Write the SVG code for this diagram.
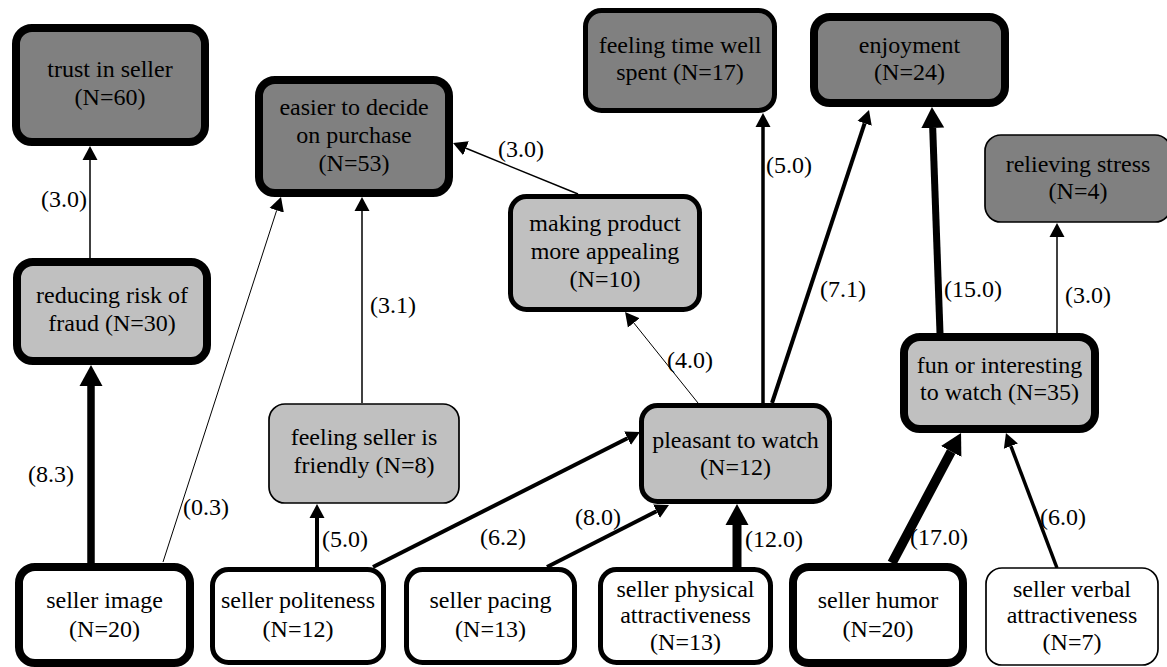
<svg xmlns="http://www.w3.org/2000/svg" width="1167" height="667" viewBox="0 0 1167 667" font-family="'Liberation Serif', 'Times New Roman', Times, 'DejaVu Serif', serif">
  <style>
    .node rect { stroke: #000; }
    .dark { fill: #808080; }
    .light { fill: #c0c0c0; }
    .white { fill: #ffffff; }
    .w-thick { stroke-width: 8; }
    .w-mid { stroke-width: 5; }
    .w-thin { stroke-width: 1.7; }
    text { font-family: 'Liberation Serif', 'Times New Roman', Times, 'DejaVu Serif', serif; font-size: 24px; fill: #000; }
    .node text { text-anchor: middle; }
    .edge { fill: none; stroke: #000; stroke-linecap: butt; }
    .a-small { marker-end: url(#arrow); }
    .a-large { marker-end: url(#arrow-big); }
  </style>
  <defs>
    <marker id="arrow" viewBox="0 -8 14 16" markerWidth="14" markerHeight="16" refX="0" refY="0" orient="auto" markerUnits="userSpaceOnUse">
      <path d="M0,-7.5 L14,0 L0,7.5 z" fill="#000"/>
    </marker>
    <marker id="arrow-big" viewBox="0 -12 21 24" markerWidth="21" markerHeight="24" refX="0" refY="0" orient="auto" markerUnits="userSpaceOnUse">
      <path d="M0,-11.5 L21,0 L0,11.5 z" fill="#000"/>
    </marker>
  </defs>

  <rect width="1167" height="667" fill="#ffffff"/>

  <!-- connectors -->
  <g id="edges">
    <path class="edge a-small" d="M90,259 L90,160" stroke-width="1.5"/>
    <path class="edge a-large" d="M91,563 L91,386" stroke-width="7.5"/>
    <path class="edge a-small" d="M163,562 L276.7,210.3" stroke-width="1"/>
    <path class="edge a-small" d="M362,403 L362,211" stroke-width="1.5"/>
    <path class="edge a-small" d="M317,567 L317,518" stroke-width="4"/>
    <path class="edge a-small" d="M373,567 L627.5,438.3" stroke-width="4"/>
    <path class="edge a-small" d="M547,567 L656.5,511.3" stroke-width="4"/>
    <path class="edge a-large" d="M737,567 L737,525" stroke-width="9"/>
    <path class="edge a-small" d="M698,403 L633.8,322.9" stroke-width="1"/>
    <path class="edge a-small" d="M578,194 L466,148.3" stroke-width="1.5"/>
    <path class="edge a-small" d="M763,403 L763,127" stroke-width="3.5"/>
    <path class="edge a-small" d="M772,403 L864.6,123.3" stroke-width="4"/>
    <path class="edge a-large" d="M940,333 L932.7,128" stroke-width="7"/>
    <path class="edge a-small" d="M1057,333 L1057,237" stroke-width="1.5"/>
    <path class="edge a-large" d="M892,563 L951.2,451.5" stroke-width="9.5"/>
    <path class="edge a-small" d="M1057,568 L1010.9,446.1" stroke-width="3.5"/>

    <g id="edge-labels">
      <text x="41" y="207">(3.0)</text>
      <text x="28" y="482">(8.3)</text>
      <text x="183" y="515">(0.3)</text>
      <text x="370" y="313">(3.1)</text>
      <text x="322" y="547">(5.0)</text>
      <text x="480" y="545">(6.2)</text>
      <text x="575" y="525">(8.0)</text>
      <text x="745" y="547">(12.0)</text>
      <text x="667" y="368">(4.0)</text>
      <text x="498" y="157">(3.0)</text>
      <text x="766" y="173">(5.0)</text>
      <text x="820" y="297">(7.1)</text>
      <text x="944" y="297">(15.0)</text>
      <text x="1065" y="303">(3.0)</text>
      <text x="910" y="545">(17.0)</text>
      <text x="1040" y="525">(6.0)</text>
    </g>
  </g>

  <!-- outcome nodes -->
  <g id="trust" class="node">
    <rect class="dark w-thick" x="16" y="28" width="189" height="114" rx="16"/>
    <text x="110" y="77">trust in seller</text>
    <text x="110" y="105">(N=60)</text>
  </g>
  <g id="easier" class="node">
    <rect class="dark w-thick" x="259" y="80" width="190" height="113" rx="16"/>
    <text x="354" y="115">easier to decide</text>
    <text x="354" y="143">on purchase</text>
    <text x="354" y="171">(N=53)</text>
  </g>
  <g id="time-well-spent" class="node">
    <rect class="dark w-mid" x="585.5" y="10.5" width="189" height="100" rx="16"/>
    <text x="680" y="53">feeling time well</text>
    <text x="680" y="80">spent (N=17)</text>
  </g>
  <g id="enjoyment" class="node">
    <rect class="dark w-thick" x="814" y="17" width="191" height="86" rx="16"/>
    <text x="909.5" y="53">enjoyment</text>
    <text x="909.5" y="80">(N=24)</text>
  </g>
  <g id="relieving-stress" class="node">
    <rect class="dark w-thin" x="985" y="135" width="186" height="87" rx="16"/>
    <text x="1078" y="172">relieving stress</text>
    <text x="1078" y="199">(N=4)</text>
  </g>

  <!-- intermediate nodes -->
  <g id="reducing-risk" class="node">
    <rect class="light w-thick" x="17" y="262" width="190" height="99" rx="16"/>
    <text x="112" y="303">reducing risk of</text>
    <text x="112" y="331">fraud (N=30)</text>
  </g>
  <g id="making-appealing" class="node">
    <rect class="light w-mid" x="510.5" y="196.5" width="189" height="113" rx="16"/>
    <text x="605" y="231">making product</text>
    <text x="605" y="259">more appealing</text>
    <text x="605" y="287">(N=10)</text>
  </g>
  <g id="seller-friendly" class="node">
    <rect class="light w-thin" x="269" y="404" width="190" height="99" rx="16"/>
    <text x="364" y="445">feeling seller is</text>
    <text x="364" y="473">friendly (N=8)</text>
  </g>
  <g id="pleasant" class="node">
    <rect class="light w-mid" x="641.5" y="405.5" width="188" height="96" rx="16"/>
    <text x="735.5" y="448">pleasant to watch</text>
    <text x="735.5" y="475">(N=12)</text>
  </g>
  <g id="fun-interesting" class="node">
    <rect class="light w-thick" x="904" y="337" width="191" height="92" rx="16"/>
    <text x="999.5" y="373">fun or interesting</text>
    <text x="999.5" y="400">to watch (N=35)</text>
  </g>

  <!-- seller attribute nodes -->
  <g id="seller-image" class="node">
    <rect class="white w-thick" x="19" y="567" width="171" height="96" rx="16"/>
    <text x="104.5" y="608">seller image</text>
    <text x="104.5" y="637">(N=20)</text>
  </g>
  <g id="seller-politeness" class="node">
    <rect class="white w-mid" x="212.5" y="569.5" width="171" height="93" rx="16"/>
    <text x="298" y="608">seller politeness</text>
    <text x="298" y="637">(N=12)</text>
  </g>
  <g id="seller-pacing" class="node">
    <rect class="white w-mid" x="406.5" y="569.5" width="168" height="93" rx="16"/>
    <text x="490.5" y="608">seller pacing</text>
    <text x="490.5" y="637">(N=13)</text>
  </g>
  <g id="seller-physical" class="node">
    <rect class="white w-mid" x="600.5" y="569.5" width="170" height="93" rx="16"/>
    <text x="685.5" y="597">seller physical</text>
    <text x="685.5" y="623">attractiveness</text>
    <text x="685.5" y="650">(N=13)</text>
  </g>
  <g id="seller-humor" class="node">
    <rect class="white w-thick" x="793" y="567" width="170" height="96" rx="16"/>
    <text x="878" y="608">seller humor</text>
    <text x="878" y="637">(N=20)</text>
  </g>
  <g id="seller-verbal" class="node">
    <rect class="white w-thin" x="986" y="568" width="172" height="97" rx="16"/>
    <text x="1072" y="597">seller verbal</text>
    <text x="1072" y="623">attractiveness</text>
    <text x="1072" y="650">(N=7)</text>
  </g>
</svg>
